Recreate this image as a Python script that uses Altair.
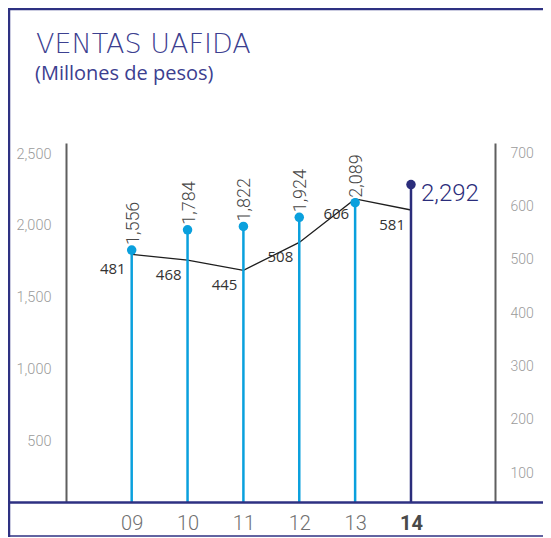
import altair as alt
import pandas as pd

# ---- data ----
YEARS = ["09", "10", "11", "12", "13", "14"]
VENTAS = [1556, 1784, 1822, 1924, 2089, 2292]
UAFIDA = [481, 468, 445, 508, 606, 581]
LEFT_TICKS = [500, 1000, 1500, 2000, 2500]
RIGHT_TICKS = [100, 200, 300, 400, 500, 600, 700]
TITLE = "VENTAS UAFIDA"
SUBTITLE = "(Millones de pesos)"
CURRENT = "14"

df = pd.DataFrame({"year": YEARS, "ventas": VENTAS, "uafida": UAFIDA})
df["yr"] = df["year"].astype(int)
df["ventas_label"] = df["ventas"].map(lambda v: f"{v:,}")
df["uafida_label"] = df["uafida"].map(str)
YEAR_NUMS = [int(y) for y in YEARS]
CUR_NUM = int(CURRENT)

# ---- styles ----
CYAN = "#0aa0dd"
NAVY = "#2b2d7b"
FRAME = "#2e3182"
TITLE_C = "#3c4090"
W, H = 429, 359

# scales (domains chosen so the picture matches the reference)
X_DOMAIN = [7.824, 15.504]
LEFT_SCALE = alt.Scale(domain=[75, 2577], nice=False, zero=False)
RIGHT_SCALE = alt.Scale(domain=[46, 719], nice=False, zero=False)
STEM_DOMAIN = [-1278, 2760]
LINE_DOMAIN = [-77, 732]
stem_scale = alt.Scale(domain=STEM_DOMAIN, nice=False, zero=False)
line_scale = alt.Scale(domain=LINE_DOMAIN, nice=False, zero=False)

is_cur = f"datum.year == '{CURRENT}'"
cur_tick = f"datum.value == {CUR_NUM}"

x_enc = alt.X(
    "yr:Q",
    scale=alt.Scale(domain=X_DOMAIN, nice=False, zero=False),
    axis=alt.Axis(
        title=None, domain=False, ticks=False, grid=False, labelAngle=0,
        values=YEAR_NUMS, labelFlush=False,
        labelExpr="(datum.value < 10 ? '0' : '') + datum.value",
        labelFont="Roboto", labelFontSize=20, labelPadding=11, labelBaseline="top",
        labelColor=alt.condition(cur_tick, alt.value("#4a4a4a"), alt.value("#707070")),
        labelFontWeight=alt.condition(cur_tick, alt.value("bold"), alt.value(300)),
    ),
)

base = alt.Chart(df)

stems = base.mark_rule(strokeWidth=2.5).encode(
    x=x_enc,
    y=alt.Y("ventas:Q", scale=stem_scale, axis=None),
    y2=alt.Y2(datum=STEM_DOMAIN[0]),
    color=alt.condition(is_cur, alt.value(NAVY), alt.value(CYAN)),
)
dots = base.mark_circle(size=90, opacity=1).encode(
    x=x_enc,
    y=alt.Y("ventas:Q", scale=stem_scale, axis=None),
    color=alt.condition(is_cur, alt.value(NAVY), alt.value(CYAN)),
)
stem_labels = base.transform_filter(f"datum.year != '{CURRENT}'").mark_text(
    angle=270, align="left", baseline="middle", dx=5, dy=2,
    font="Roboto", fontWeight=300, fontSize=18, color="#474747",
).encode(
    x=x_enc,
    y=alt.Y("ventas:Q", scale=stem_scale, axis=None),
    text="ventas_label:N",
)
cur_label = base.transform_filter(is_cur).mark_text(
    align="left", baseline="middle", dx=10, dy=9,
    font="Roboto", fontWeight=300, fontSize=24, color=NAVY,
).encode(
    x=x_enc,
    y=alt.Y("ventas:Q", scale=stem_scale, axis=None),
    text="ventas_label:N",
)

line = base.mark_line(color="#1e1e1e", strokeWidth=1.3).encode(
    x=x_enc,
    y=alt.Y("uafida:Q", scale=line_scale, axis=None),
)
line_labels = base.mark_text(
    align="right", baseline="middle", dx=-6, dy=15,
    font="Open Sans", fontSize=15, color="#333333",
).encode(
    x=x_enc,
    y=alt.Y("uafida:Q", scale=line_scale, axis=None),
    text="uafida_label:N",
)

left_axis = alt.Chart(pd.DataFrame({"v": LEFT_TICKS})).mark_point(opacity=0).encode(
    y=alt.Y("v:Q", scale=LEFT_SCALE, axis=alt.Axis(
        orient="left", values=LEFT_TICKS, format=",d", title=None, grid=False, ticks=False,
        domainColor="#5f5f5f", domainWidth=2, labelColor="#9b9b9b", labelFont="Roboto",
        labelFontWeight=300, labelFontSize=14.5, labelPadding=15,
    )),
)
right_axis = alt.Chart(pd.DataFrame({"v": RIGHT_TICKS})).mark_point(opacity=0).encode(
    y=alt.Y("v:Q", scale=RIGHT_SCALE, axis=alt.Axis(
        orient="right", values=RIGHT_TICKS, format="d", title=None, grid=False, ticks=False,
        domainColor="#5f5f5f", domainWidth=2, labelColor="#9b9b9b", labelFont="Roboto",
        labelFontWeight=300, labelFontSize=14, labelPadding=15,
    )),
)

one = pd.DataFrame({"t": [TITLE], "s": [SUBTITLE]})
title = alt.Chart(one).mark_text(
    align="left", baseline="alphabetic", font="DejaVu Sans", fontWeight=200,
    fontSize=27, color=TITLE_C,
).encode(text="t:N", x=alt.value(-30), y=alt.value(-90))
subtitle = alt.Chart(one).mark_text(
    align="left", baseline="alphabetic", font="Open Sans", fontSize=20, color=TITLE_C,
).encode(text="s:N", x=alt.value(-31), y=alt.value(-63))

top_rule = alt.Chart(one).mark_rule(color=FRAME, strokeWidth=2.5).encode(
    x=alt.value(-57), x2=alt.value(477), y=alt.value(-134))
left_rule = alt.Chart(one).mark_rule(color=FRAME, strokeWidth=2.5).encode(
    x=alt.value(-57), y=alt.value(-135), y2=alt.value(394))
mid_rule = alt.Chart(one).mark_rule(color=FRAME, strokeWidth=2.5).encode(
    x=alt.value(-57), x2=alt.value(477), y=alt.value(359.5))
bot_rule = alt.Chart(one).mark_rule(color=FRAME, strokeWidth=1.6).encode(
    x=alt.value(-57), x2=alt.value(477), y=alt.value(393))

chart = alt.layer(
    left_axis, right_axis, line, stems, dots, stem_labels, cur_label, line_labels,
    title, subtitle, top_rule, left_rule, mid_rule, bot_rule,
).resolve_scale(y="independent").properties(
    width=W, height=H,
    padding={"left": 58, "top": 135, "right": 48, "bottom": 35},
    autosize=alt.AutoSizeParams(type="none"),
).configure_view(strokeWidth=0)

chart.save("out.html", embed_options={"renderer": "svg", "actions": False})
